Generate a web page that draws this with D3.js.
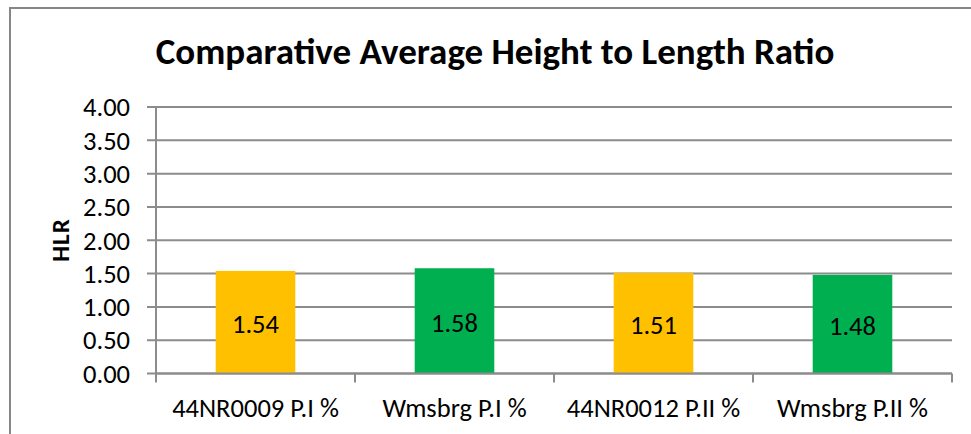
<!DOCTYPE html>
<html lang="en">
<head>
    <meta charset="UTF-8">
    <title>hlr-bar</title>
    <script src="https://cdn.jsdelivr.net/npm/d3@7/dist/d3.min.js"></script>
    <style>
        body{
            margin: 0;
            background: #fff;
        }
        svg text{
            font-family: Carlito, Calibri, Lato, sans-serif;
            fill: #000;
        }
        .grid line{
            stroke: #8c8c8c;
            stroke-width: 2;
        }
    </style>
</head>
<body>
<svg class="graph"></svg>
<script>
    // data
    var categories = ['44NR0009 P.I %', 'Wmsbrg P.I %', '44NR0012 P.II %', 'Wmsbrg P.II %'];
    var values = [1.54, 1.58, 1.51, 1.48];
    var barColors = ['#FFC000', '#00B050', '#FFC000', '#00B050'];
    var yTicks = [0, 0.5, 1, 1.5, 2, 2.5, 3, 3.5, 4];

    var width = 971, height = 434;
    var svg = d3.select('.graph').attr('width', width).attr('height', height);

    // chart frame (runs off the right and bottom edges)
    svg.append('rect')
        .attr('x', 10).attr('y', 8)
        .attr('width', 980).attr('height', 450)
        .attr('fill', '#fff')
        .attr('stroke', '#868686')
        .attr('stroke-width', 2);

    var plot = {left: 156, right: 952, top: 107, bottom: 373.5};

    var x = d3.scaleBand()
        .domain(categories)
        .range([plot.left, plot.right])
        .paddingInner(0.6)
        .paddingOuter(0.3);

    var y = d3.scaleLinear()
        .domain([0, 4])
        .range([plot.bottom, plot.top]);

    // title
    svg.append('text')
        .attr('x', 495).attr('y', 64)
        .attr('text-anchor', 'middle')
        .style('font-size', '37px')
        .style('font-weight', 'bold')
        .text('Comparative Average Height to Length Ratio');

    // gridlines + y axis ticks
    var grid = svg.append('g').attr('class', 'grid');
    grid.selectAll('line')
        .data(yTicks)
        .enter()
        .append('line')
        .attr('x1', plot.left - 9)
        .attr('x2', plot.right)
        .attr('y1', function (d) { return y(d); })
        .attr('y2', function (d) { return y(d); });

    // y axis line
    svg.append('line')
        .attr('x1', plot.left).attr('x2', plot.left)
        .attr('y1', plot.top).attr('y2', plot.bottom)
        .attr('stroke', '#8c8c8c').attr('stroke-width', 2);

    svg.append('g').selectAll('text')
        .data(yTicks)
        .enter()
        .append('text')
        .attr('x', 130)
        .attr('y', function (d) { return y(d); })
        .attr('dy', '0.35em')
        .attr('text-anchor', 'end')
        .style('font-size', '26.5px')
        .text(function (d) { return d3.format('.2f')(d); });

    // y axis title
    svg.append('text')
        .attr('transform', 'translate(69,240) rotate(-90)')
        .attr('text-anchor', 'middle')
        .style('font-size', '25px')
        .style('font-weight', 'bold')
        .style('letter-spacing', '1px')
        .text('HLR');

    // bars
    svg.append('g').selectAll('rect')
        .data(values)
        .enter()
        .append('rect')
        .attr('x', function (d, i) { return x(categories[i]); })
        .attr('y', function (d) { return y(d); })
        .attr('width', x.bandwidth())
        .attr('height', function (d) { return y(0) - y(d); })
        .attr('fill', function (d, i) { return barColors[i]; });

    // value labels
    svg.append('g').selectAll('text')
        .data(values)
        .enter()
        .append('text')
        .attr('x', function (d, i) { return x(categories[i]) + x.bandwidth() / 2; })
        .attr('y', function (d) { return (y(d) + y(0)) / 2 + 2; })
        .attr('dy', '0.35em')
        .attr('text-anchor', 'middle')
        .style('font-size', '26.5px')
        .text(function (d) { return d3.format('.2f')(d); });

    // x axis line + category ticks
    svg.append('line')
        .attr('x1', plot.left).attr('x2', plot.right)
        .attr('y1', plot.bottom).attr('y2', plot.bottom)
        .attr('stroke', '#8c8c8c').attr('stroke-width', 2);

    var step = (plot.right - plot.left) / categories.length;
    svg.append('g').selectAll('line')
        .data(d3.range(categories.length + 1))
        .enter()
        .append('line')
        .attr('x1', function (d) { return plot.left + d * step; })
        .attr('x2', function (d) { return plot.left + d * step; })
        .attr('y1', plot.bottom)
        .attr('y2', plot.bottom + 9)
        .attr('stroke', '#8c8c8c').attr('stroke-width', 2);

    svg.append('g').selectAll('text')
        .data(categories)
        .enter()
        .append('text')
        .attr('x', function (d) { return x(d) + x.bandwidth() / 2; })
        .attr('y', 417)
        .attr('text-anchor', 'middle')
        .style('font-size', '26.5px')
        .text(function (d) { return d; });
</script>
</body>
</html>
